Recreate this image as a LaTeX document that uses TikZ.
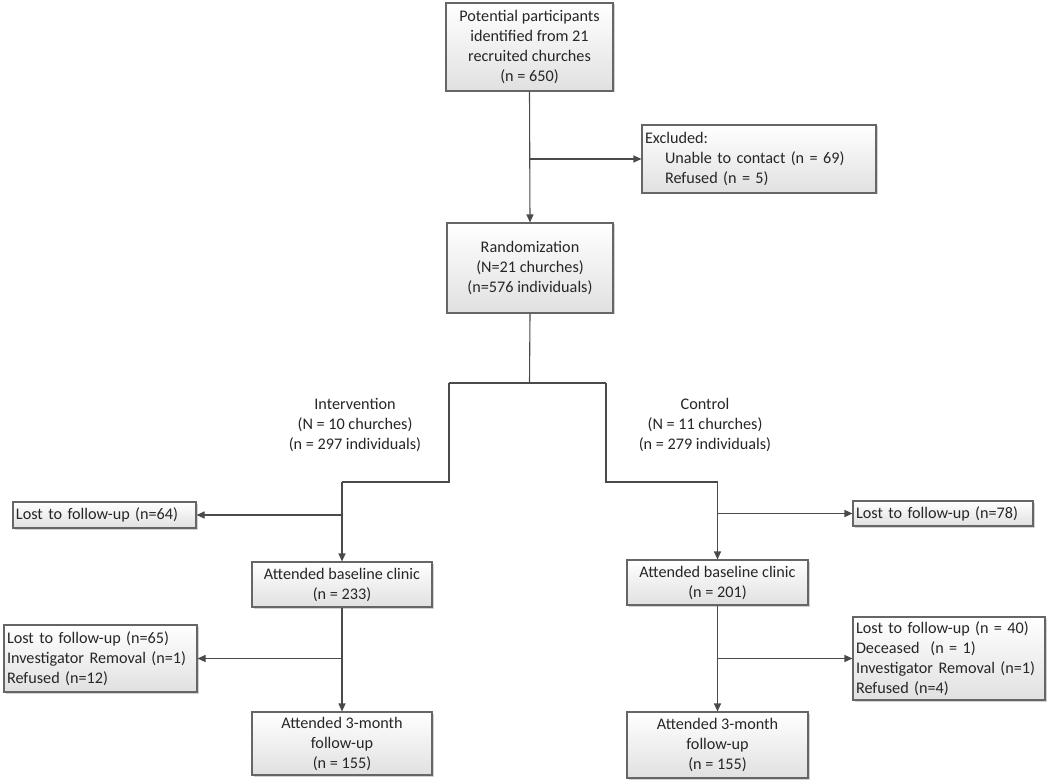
\documentclass[tikz,border=0pt]{standalone}
\usepackage{fontspec}
\setmainfont{Carlito}
\usetikzlibrary{arrows.meta,shadows,calc}
\definecolor{txt}{HTML}{262626}
\definecolor{ln}{HTML}{4A4A4A}
\definecolor{bd}{HTML}{666666}
\tikzset{
  box/.style={draw=bd, line width=1.1pt, top color=white, bottom color=black!12,
    drop shadow={opacity=0.35, shadow xshift=1.5pt, shadow yshift=-1.5pt},
    inner sep=2pt, text=txt, font=\fontsize{16.2}{20}\selectfont},
  cbox/.style={box, align=center},
  lbox/.style={box, align=left, text width=#1, inner sep=3pt},
  lab/.style={text=txt, align=center, font=\fontsize{16.2}{20}\selectfont},
  con/.style={draw=ln, line width=1.1pt},
  arr/.style={con, -{Triangle[length=8pt,width=7pt]}}
}
\begin{document}
\begin{tikzpicture}[x=1pt,y=1pt]
\useasboundingbox (0,0) rectangle (1050,-783);
\fill[white] (0,0) rectangle (1050,-783);
% boxes
\node[cbox, minimum width=167pt, minimum height=88pt] (top) at (529.5,-47) {Potential participants\\identified from 21\\recruited churches\\(n = 650)};
\node[lbox=228pt, minimum height=68pt] (excl) at (759,-159) {Excluded:\\\hspace*{20pt}Unable to contact (n = 69)\\\hspace*{20pt}Refused (n = 5)};
\node[cbox, minimum width=166pt, minimum height=90pt] (rand) at (530,-268) {Randomization\\(N=21 churches)\\(n=576 individuals)};
\node[lab] (intv) at (355,-425) {Intervention\\(N = 10 churches)\\(n = 297 individuals)};
\node[lab] (ctrl) at (705,-425) {Control\\(N = 11 churches)\\(n = 279 individuals)};
\node[lbox=177pt, minimum height=26pt] (lostL1) at (104.5,-515) {Lost to follow-up (n=64)};
\node[lbox=174pt, minimum height=25pt] (lostR1) at (943,-513.5) {Lost to follow-up (n=78)};
\node[cbox, minimum width=180pt, minimum height=45pt] (baseL) at (342,-584.5) {Attended baseline clinic\\(n = 233)};
\node[cbox, minimum width=181pt, minimum height=45pt] (baseR) at (717.5,-582.5) {Attended baseline clinic\\(n = 201)};
\node[lbox=187pt, minimum height=67pt] (lostL2) at (100.5,-658.5) {Lost to follow-up (n=65)\\Investigator Removal (n=1)\\Refused (n=12)};
\node[lbox=186pt, minimum height=83pt] (lostR2) at (949,-658.5) {Lost to follow-up (n = 40)\\Deceased~ (n = 1)\\Investigator Removal (n=1)\\Refused (n=4)};
\node[cbox, minimum width=180pt, minimum height=63pt] (endL) at (342,-743.5) {Attended 3-month\\follow-up\\(n = 155)};
\node[cbox, minimum width=181pt, minimum height=66pt] (endR) at (717.5,-745) {Attended 3-month\\follow-up\\(n = 155)};
% coordinates
\coordinate (bx) at (529.5,-159);
\coordinate (j1) at (529.5,-383);
\coordinate (jl) at (449,-383);
\coordinate (jr) at (606,-383);
\coordinate (jl2) at (449,-482);
\coordinate (jr2) at (606,-482);
\coordinate (sl) at (342,-482);
\coordinate (sr) at (717.5,-482);
\coordinate (bl1) at (342,-515);
\coordinate (br1) at (717.5,-513.5);
\coordinate (bl2) at (342,-658.5);
\coordinate (br2) at (717.5,-658.5);
% connectors
\draw[arr] (top.south) -- (rand.north);
\draw[arr] (bx) -- (excl.west);
\draw[con] (rand.south) -- (j1);
\draw[con] (jl) -- (jr);
\draw[con] (jl) -- (jl2) -- (sl);
\draw[con] (jr) -- (jr2) -- (sr);
\draw[arr] (sl) -- (baseL.north);
\draw[arr] (sr) -- (baseR.north);
\draw[arr] (bl1) -- (lostL1.east);
\draw[arr] (br1) -- (lostR1.west);
\draw[arr] (baseL.south) -- (endL.north);
\draw[arr] (baseR.south) -- (endR.north);
\draw[arr] (bl2) -- (lostL2.east);
\draw[arr] (br2) -- (lostR2.west);
\end{tikzpicture}
\end{document}
